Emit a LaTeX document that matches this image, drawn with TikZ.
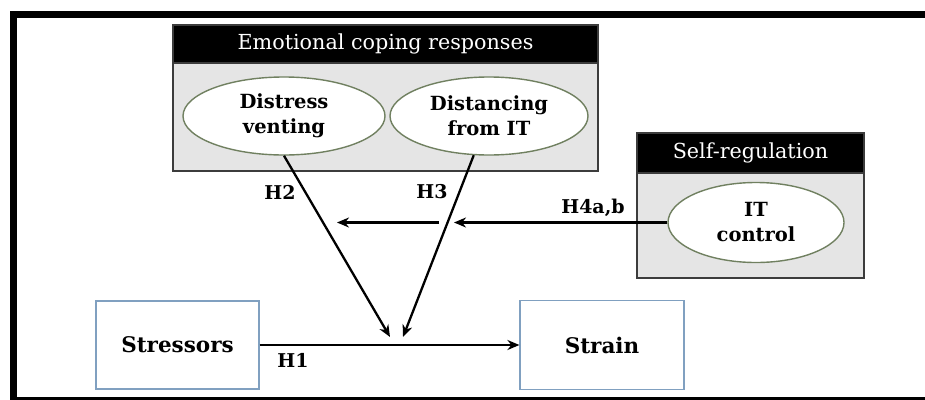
\documentclass[tikz,border=0pt]{standalone}
\usepackage{fontspec}
\setmainfont{DejaVu Serif}
\usetikzlibrary{shapes.geometric, arrows.meta}
\definecolor{panelgrey}{RGB}{229,229,229}
\definecolor{panelline}{RGB}{60,60,60}
\definecolor{ovalline}{RGB}{112,128,96}
\definecolor{boxline}{RGB}{128,160,192}

\begin{document}
\begin{tikzpicture}[x = 1pt, y = -1pt, >= {Stealth[length = 12pt, width = 10pt]},
    headbar/.style = {draw = panelline, fill = black, text = white, line width = 1.2pt, inner sep = 0pt, font = \fontsize{20.7}{24}\selectfont},
    panel/.style = {draw = panelline, fill = panelgrey, line width = 1.2pt, inner sep = 0pt},
    construct/.style = {ellipse, draw = ovalline, fill = white, line width = 1.4pt, inner sep = 0pt, align = center, font = \fontsize{19.5}{25}\selectfont\bfseries},
    varbox/.style = {draw = boxline, fill = white, line width = 1.2pt, inner sep = 0pt, font = \fontsize{21.5}{24}\selectfont\bfseries},
    hyp/.style = {inner sep = 0pt, font = \fontsize{19}{22}\selectfont\bfseries},
    link/.style = {->, line width = 2.3pt}]
          \useasboundingbox (0,0) rectangle (925,399);
          \clip (0,0) rectangle (925,399);
          \draw[line width = 7pt] (940,14.5) -- (13.5,14.5) -- (13.5,400.5) -- (940,400.5);
          % coping block
          \node[panel, minimum width = 425pt, minimum height = 108pt] (emobox) at (385.5,117) {};
          \node[headbar, minimum width = 425pt, minimum height = 38pt] (emohead) at (385.5,44) {Emotional coping responses};
          \node[construct, minimum width = 202pt, minimum height = 78pt] (venting) at (284,116) {Distress\\venting};
          \node[construct, minimum width = 198pt, minimum height = 78pt] (distancing) at (489,116) {Distancing\\from IT};
          % self-regulation block
          \node[panel, minimum width = 227pt, minimum height = 105pt] (selfbox) at (750.5,225.5) {};
          \node[headbar, minimum width = 227pt, minimum height = 40pt] (selfhead) at (750.5,153) {Self-regulation};
          \node[construct, minimum width = 176pt, minimum height = 80pt] (itcontrol) at (756,222.5) {IT\\control};
          \node[varbox, minimum width = 163pt, minimum height = 88pt] (stressors) at (177.5,345) {Stressors};
          \node[varbox, minimum width = 164pt, minimum height = 89pt] (strain) at (602,345) {Strain};
          \coordinate (h2end) at (390,337);
          \coordinate (h3end) at (403,337);
          \coordinate (modstart) at (439,222.5);
          \coordinate (modend) at (337,222.5);
          \coordinate (h4end) at (454,222.5);
          \draw[link] (stressors) -- (strain);
          \draw[link] (venting.south) -- (h2end);
          \draw[link] (distancing) -- (h3end);
          \draw[link] (modstart) -- (modend);
          \draw[link] (itcontrol) -- (h4end);
          \node[hyp] (h1lab) at (293,360) {H1};
          \node[hyp] (h2lab) at (280,192) {H2};
          \node[hyp] (h3lab) at (432,192) {H3};
          \node[hyp] (h4lab) at (593,208) {H4a,b};
\end{tikzpicture}
\end{document}
